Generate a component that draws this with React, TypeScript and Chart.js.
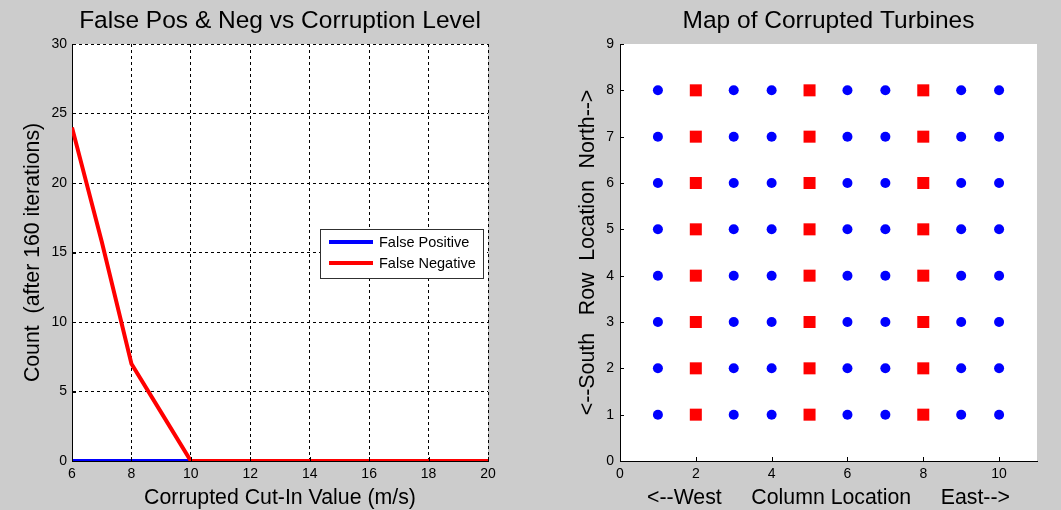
import React, { useEffect, useRef } from "react";
import { Chart, registerables } from "chart.js";

Chart.register(...registerables);

// Left panel: false positives / negatives against the corrupted cut-in speed
const cutInValues = [6, 7, 8, 9, 10, 11, 12, 13, 14, 15, 16, 17, 18, 19, 20];
const falsePositives = [0, 0, 0, 0, 0, 0, 0, 0, 0, 0, 0, 0, 0, 0, 0];
const falseNegatives = [24, 15.8, 7, 3.5, 0, 0, 0, 0, 0, 0, 0, 0, 0, 0, 0];

// Right panel: turbine grid, rows 1..8 and columns 1..10
const turbineRows = [1, 2, 3, 4, 5, 6, 7, 8];
const normalColumns = [1, 3, 4, 6, 7, 9, 10];
const corruptedColumns = [2, 5, 8];

const FONT = "'Liberation Sans', Arial, Helvetica, sans-serif";
const FIG_BG = "#cccccc";

// White plotting area on top of the grey figure
const plotBackground = {
  id: "plotBackground",
  beforeDraw(chart: any) {
    const { ctx, chartArea } = chart;
    ctx.save();
    ctx.fillStyle = "#ffffff";
    ctx.fillRect(chartArea.left, chartArea.top, chartArea.width, chartArea.height);
    ctx.restore();
  },
};

// Short tick marks pointing into the axes
const innerTicks = {
  id: "innerTicks",
  afterDatasetsDraw(chart: any) {
    const { ctx, chartArea, scales } = chart;
    const len = 4;
    ctx.save();
    ctx.strokeStyle = "#000";
    ctx.lineWidth = 1;
    ctx.beginPath();
    scales.x.ticks.forEach((t: any) => {
      const px = Math.round(scales.x.getPixelForValue(t.value)) + 0.5;
      ctx.moveTo(px, chartArea.bottom);
      ctx.lineTo(px, chartArea.bottom - len);
    });
    scales.y.ticks.forEach((t: any) => {
      const py = Math.round(scales.y.getPixelForValue(t.value)) + 0.5;
      ctx.moveTo(chartArea.left, py);
      ctx.lineTo(chartArea.left + len, py);
    });
    ctx.stroke();
    ctx.restore();
  },
};

// Boxed legend placed inside the plotting area
const boxLegend = {
  id: "boxLegend",
  afterDraw(chart: any) {
    const { ctx, chartArea } = chart;
    const w = 163;
    const h = 49;
    const x0 = chartArea.right - 168;
    const y0 = chartArea.top + 185;
    ctx.save();
    ctx.fillStyle = "#ffffff";
    ctx.fillRect(x0, y0, w, h);
    ctx.strokeStyle = "#303030";
    ctx.lineWidth = 1;
    ctx.strokeRect(x0 + 0.5, y0 + 0.5, w, h);
    chart.data.datasets.forEach((ds: any, i: number) => {
      const y = y0 + 13 + i * 21;
      ctx.strokeStyle = ds.borderColor;
      ctx.lineWidth = 4;
      ctx.beginPath();
      ctx.moveTo(x0 + 9, y);
      ctx.lineTo(x0 + 53, y);
      ctx.stroke();
      ctx.fillStyle = "#000";
      ctx.font = `14.5px ${FONT}`;
      ctx.textBaseline = "middle";
      ctx.textAlign = "left";
      ctx.fillText(ds.label, x0 + 59, y + 1);
    });
    ctx.restore();
  },
};

function fixWidth(w: number) {
  return (scale: any) => {
    scale.width = w;
  };
}
function fixHeight(h: number) {
  return (scale: any) => {
    scale.height = h;
  };
}

export default function App() {
  const leftRef = useRef<HTMLCanvasElement>(null);
  const rightRef = useRef<HTMLCanvasElement>(null);

  useEffect(() => {
    const tickFont = { family: FONT, size: 14 };
    const labelFont = { family: FONT, size: 21.3, lineHeight: 1 };
    const titleFont = { family: FONT, size: 24.5, weight: "normal" as const, lineHeight: 1.2 };

    const left = new Chart(leftRef.current!, {
      type: "line",
      data: {
        datasets: [
          {
            label: "False Positive",
            data: cutInValues.map((x, i) => ({ x, y: falsePositives[i] })),
            borderColor: "#0000ff",
            backgroundColor: "#0000ff",
            borderWidth: 4,
            pointRadius: 0,
            order: 1,
          },
          {
            label: "False Negative",
            data: cutInValues.map((x, i) => ({ x, y: falseNegatives[i] })),
            borderColor: "#ff0000",
            backgroundColor: "#ff0000",
            borderWidth: 4,
            pointRadius: 0,
            order: 0,
          },
        ],
      },
      options: {
        animation: false,
        responsive: false,
        events: [],
        layout: { padding: { left: 0, right: 42, top: 0, bottom: 0 } },
        plugins: {
          legend: { display: false },
          tooltip: { enabled: false },
          title: {
            display: true,
            fullSize: false,
            text: "False Pos & Neg vs Corruption Level",
            color: "#000",
            font: titleFont,
            padding: { top: 7, bottom: 7.6 },
          },
        },
        scales: {
          x: {
            type: "linear",
            min: 6,
            max: 20,
            afterFit: fixHeight(49),
            ticks: { stepSize: 2, color: "#000", font: tickFont, padding: 5 },
            grid: { color: "#000", lineWidth: 1, drawTicks: false },
            border: { display: true, color: "#000", width: 1, dash: [3, 3] },
            title: {
              display: true,
              text: "Corrupted Cut-In Value (m/s)",
              color: "#000",
              font: labelFont,
              padding: { top: 0, bottom: 1 },
            },
          },
          y: {
            type: "linear",
            min: 0,
            max: 30,
            afterFit: fixWidth(72),
            ticks: { stepSize: 5, color: "#000", font: tickFont, padding: 5 },
            grid: { color: "#000", lineWidth: 1, drawTicks: false },
            border: { display: true, color: "#000", width: 1, dash: [3, 3] },
            title: {
              display: true,
              text: "Count  (after 160 iterations)",
              color: "#000",
              font: labelFont,
              padding: { top: 22, bottom: 0 },
            },
          },
        },
      },
      plugins: [plotBackground, innerTicks, boxLegend],
    });

    const right = new Chart(rightRef.current!, {
      type: "scatter",
      data: {
        datasets: [
          {
            label: "Normal",
            data: turbineRows.flatMap((r) => normalColumns.map((c) => ({ x: c, y: r }))),
            pointStyle: "circle",
            pointRadius: 5,
            backgroundColor: "#0000ff",
            borderColor: "#0000ff",
            borderWidth: 0,
          },
          {
            label: "Corrupted",
            data: turbineRows.flatMap((r) => corruptedColumns.map((c) => ({ x: c, y: r }))),
            pointStyle: "rect",
            pointRadius: 8.5,
            backgroundColor: "#ff0000",
            borderColor: "#ff0000",
            borderWidth: 0,
          },
        ],
      },
      options: {
        animation: false,
        responsive: false,
        events: [],
        layout: { padding: { left: 0, right: 24, top: 0, bottom: 0 } },
        plugins: {
          legend: { display: false },
          tooltip: { enabled: false },
          title: {
            display: true,
            fullSize: false,
            text: "Map of Corrupted Turbines",
            color: "#000",
            font: titleFont,
            padding: { top: 7, bottom: 7.6 },
          },
        },
        scales: {
          x: {
            type: "linear",
            min: 0,
            max: 11,
            afterFit: fixHeight(49),
            afterBuildTicks: (scale: any) => {
              scale.ticks = scale.ticks.filter((t: any) => t.value <= 10);
            },
            ticks: { stepSize: 2, color: "#000", font: tickFont, padding: 5 },
            grid: { display: false, drawTicks: false },
            border: { display: true, color: "#000", width: 1 },
            title: {
              display: true,
              text: "<--West     Column Location     East-->",
              color: "#000",
              font: labelFont,
              padding: { top: 0, bottom: 1 },
            },
          },
          y: {
            type: "linear",
            min: 0,
            max: 9,
            afterFit: fixWidth(90),
            ticks: { stepSize: 1, color: "#000", font: tickFont, padding: 6 },
            grid: { display: false, drawTicks: false },
            border: { display: true, color: "#000", width: 1 },
            title: {
              display: true,
              text: "<--South   Row  Location  North-->",
              color: "#000",
              font: labelFont,
              padding: { top: 47, bottom: 0 },
            },
          },
        },
      },
      plugins: [plotBackground, innerTicks],
    });

    return () => {
      left.destroy();
      right.destroy();
    };
  }, []);

  return (
    <div
      style={{
        position: "absolute",
        left: 0,
        top: 0,
        width: 1061,
        height: 510,
        background: FIG_BG,
        overflow: "hidden",
      }}
    >
      <div style={{ position: "absolute", left: 0, top: 0, width: 530, height: 510 }}>
        <canvas ref={leftRef} width={530} height={510} style={{ display: "block" }} />
      </div>
      <div style={{ position: "absolute", left: 530, top: 0, width: 531, height: 510 }}>
        <canvas ref={rightRef} width={531} height={510} style={{ display: "block" }} />
      </div>
    </div>
  );
}
